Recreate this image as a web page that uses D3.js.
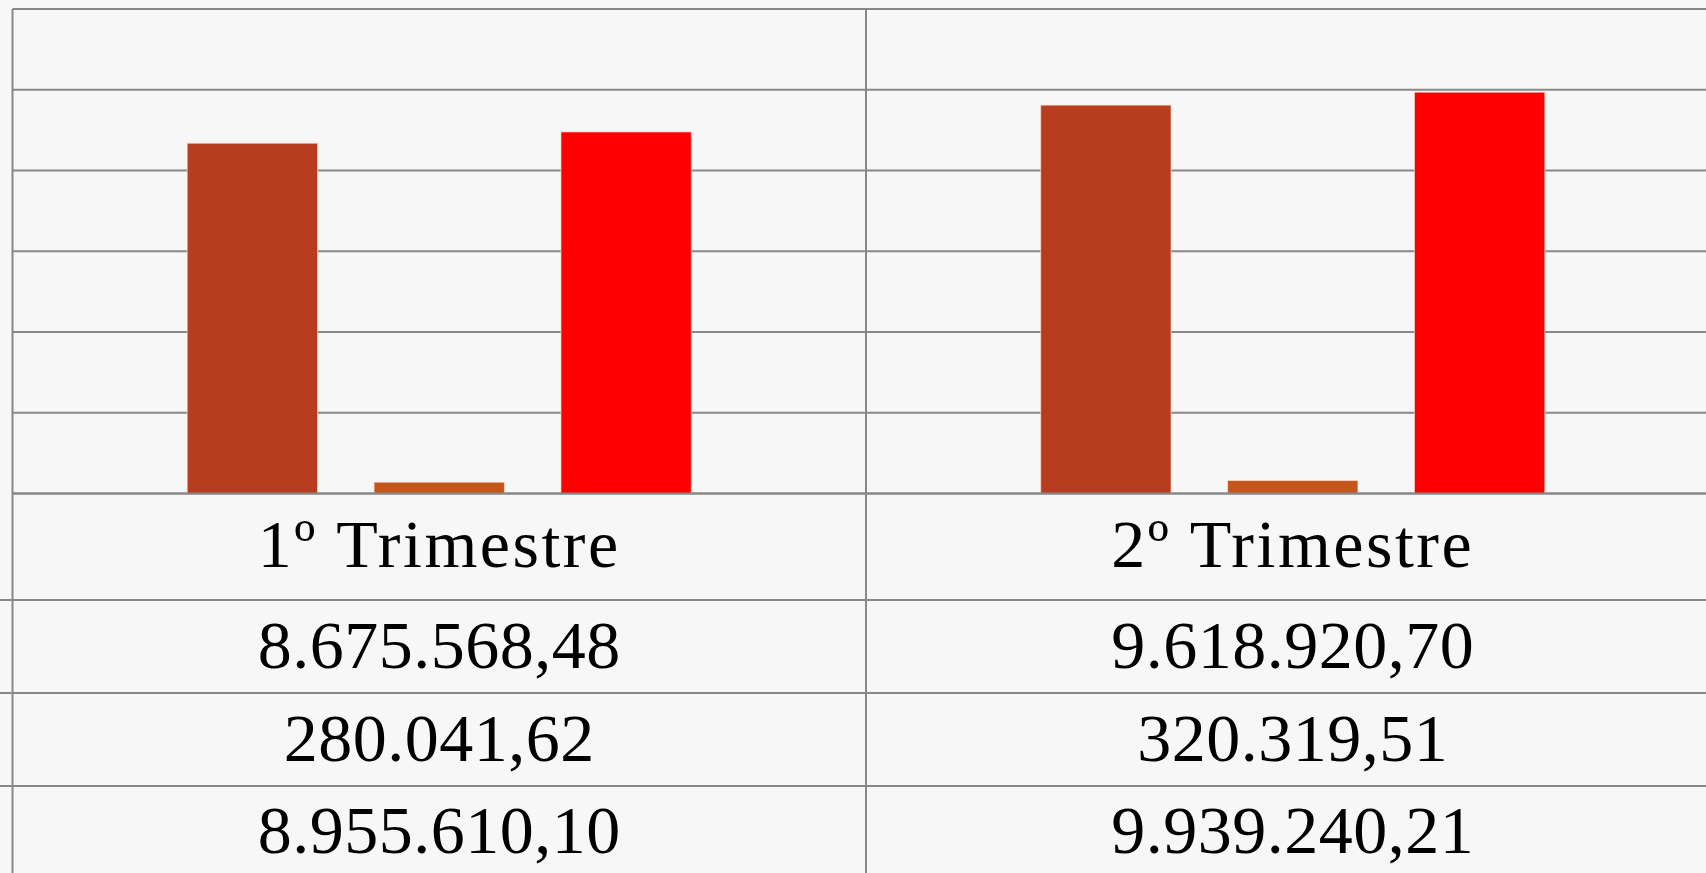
<!DOCTYPE html>
<html>
<head>
<meta charset="utf-8">
<script src="https://cdn.jsdelivr.net/npm/d3@7"></script>
<style>
  html, body { margin: 0; padding: 0; background: #f7f7f7; overflow: hidden; }
  svg { display: block; }
</style>
</head>
<body>
<svg id="chart" width="1706" height="873"></svg>
<script>
// ---- data ----
const categories = ["1º Trimestre", "2º Trimestre"];
const seriesNames = ["serie1", "serie2", "total"];
const serie1 = [8675568.48, 9618920.70];
const serie2 = [280041.62, 320319.51];
const total = [8955610.10, 9939240.21];
const seriesColors = ["#b83c1e", "#c4561a", "#ff0000"];
const yTicks = [0, 2000000, 4000000, 6000000, 8000000, 10000000, 12000000];

const values = [serie1, serie2, total];

const W = 1706, H = 873;
const svg = d3.select("#chart");

// background
svg.append("rect").attr("width", W).attr("height", H).attr("fill", "#f7f7f7");

const left = 12.5, catW = 853.5;
const yTop = 9, yBase = 493.5;

const x0 = d3.scaleBand().domain(categories)
  .range([left, left + catW * categories.length]).paddingInner(0).paddingOuter(0);
const x1 = d3.scaleBand().domain(seriesNames)
  .range([174.7, catW - 174.7]).paddingInner(0.3025).paddingOuter(0);
const y = d3.scaleLinear().domain([0, 12000000]).range([yBase, yTop]);

const gridColor = "#888888";

// gridlines
svg.append("g").selectAll("line").data(yTicks).join("line")
  .attr("x1", left).attr("x2", W)
  .attr("y1", d => y(d)).attr("y2", d => y(d))
  .attr("stroke", gridColor).attr("stroke-width", 2);

// bars
const data = [];
categories.forEach((c, ci) => {
  seriesNames.forEach((s, si) => {
    data.push({ cat: c, ser: s, val: values[si][ci], color: seriesColors[si] });
  });
});
svg.append("g").selectAll("rect").data(data).join("rect")
  .attr("x", d => x0(d.cat) + x1(d.ser))
  .attr("width", x1.bandwidth())
  .attr("y", d => y(d.val))
  .attr("height", d => y(0) - y(d.val))
  .attr("fill", d => d.color)
  .attr("stroke", "rgba(255,220,210,0.7)")
  .attr("stroke-width", 1);

// baseline
svg.append("line").attr("x1", left).attr("x2", W)
  .attr("y1", y(0)).attr("y2", y(0))
  .attr("stroke", gridColor).attr("stroke-width", 2);

// data table
const rowLines = [600, 693, 786];
svg.append("g").selectAll("line").data(rowLines).join("line")
  .attr("x1", 0).attr("x2", W)
  .attr("y1", d => d).attr("y2", d => d)
  .attr("stroke", gridColor).attr("stroke-width", 2);

// vertical column lines
const vx = categories.map(c => x0(c)).concat([x0(categories[categories.length - 1]) + catW]);
svg.append("g").selectAll("line").data(vx).join("line")
  .attr("x1", d => d).attr("x2", d => d)
  .attr("y1", yTop).attr("y2", H)
  .attr("stroke", gridColor).attr("stroke-width", 2);

const fmt = d3.formatLocale({ decimal: ",", thousands: ".", grouping: [3], currency: ["R$", ""] }).format(",.2f");
const font = "'Liberation Serif', 'Times New Roman', serif";
const fs = 68;

// category labels
svg.append("g").selectAll("text").data(categories).join("text")
  .attr("x", c => x0(c) + catW / 2)
  .attr("y", 567)
  .attr("text-anchor", "middle")
  .attr("font-family", font).attr("font-size", fs).attr("fill", "#000")
  .attr("letter-spacing", 2.5)
  .text(c => c);

const rowBaselines = [667.5, 760.5, 852.5];
values.forEach((arr, si) => {
  svg.append("g").selectAll("text").data(categories).join("text")
    .attr("x", c => x0(c) + catW / 2)
    .attr("y", rowBaselines[si])
    .attr("text-anchor", "middle")
    .attr("font-family", font).attr("font-size", fs).attr("fill", "#000")
    .attr("letter-spacing", 0.5)
    .text((c, ci) => fmt(arr[ci]));
});
</script>
</body>
</html>
